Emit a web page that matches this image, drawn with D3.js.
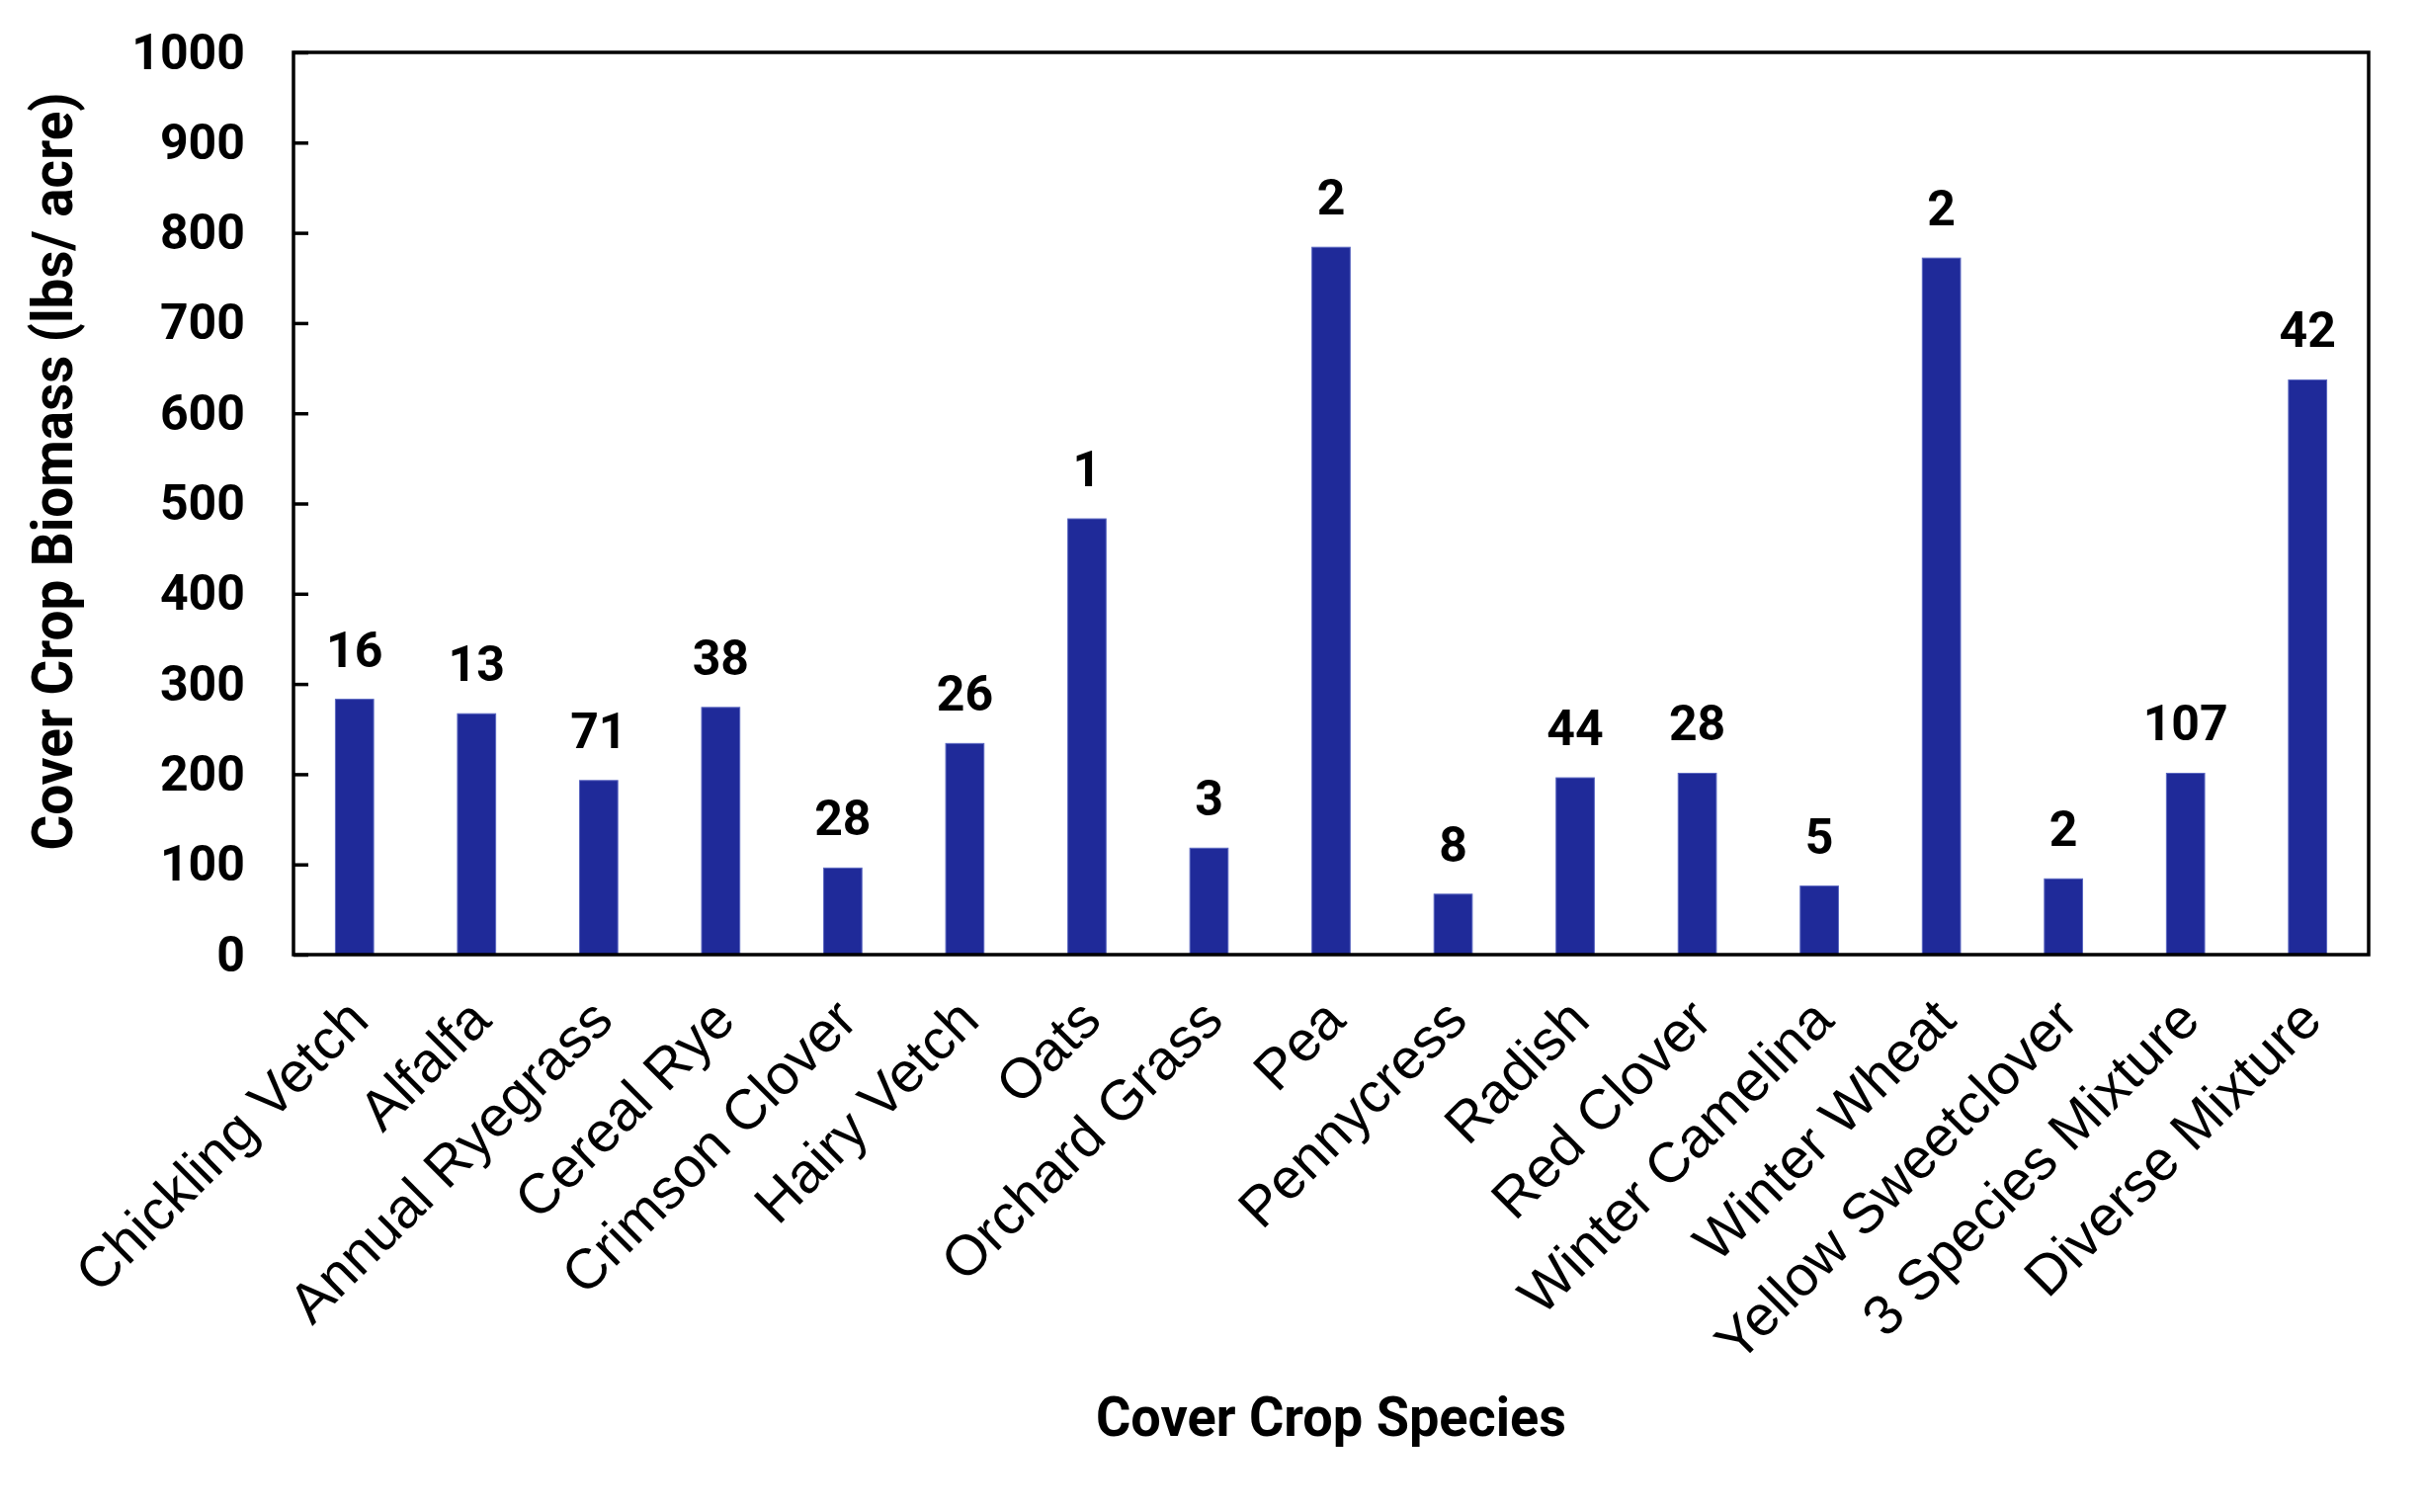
<!DOCTYPE html>
<html>
<head>
<meta charset="utf-8">
<script src="https://cdn.jsdelivr.net/npm/d3@7"></script>
<style>
html,body{margin:0;padding:0;background:#fff;}
svg{display:block;}
</style>
</head>
<body>
<svg id="chart" width="2452" height="1530"></svg>
<script>
const categories = ["Chickling Vetch","Alfalfa","Annual Ryegrass","Cereal Rye","Crimson Clover","Hairy Vetch","Oats","Orchard Grass","Pea","Pennycress","Radish","Red Clover","Winter Camelina","Winter Wheat","Yellow Sweetclover","3 Species Mixture","Diverse Mixture"];
const biomass = [283, 267, 193, 274, 96, 234, 483, 118, 784, 67, 196, 201, 76, 772, 84, 201, 637];
const sampleCounts = [16, 13, 71, 38, 28, 26, 1, 3, 2, 8, 44, 28, 5, 2, 2, 107, 42];
const yTicks = [0,100,200,300,400,500,600,700,800,900,1000];
const yTitle = "Cover Crop Biomass (lbs/ acre)";
const xTitle = "Cover Crop Species";

const svg = d3.select("#chart");
const m = {left: 297, right: 2397, top: 53, bottom: 966};

const x = d3.scaleBand().domain(categories).range([m.left, m.right]).paddingInner(0.687).paddingOuter(0.3435);
const y = d3.scaleLinear().domain([0, 1000]).range([m.bottom, m.top]);

// bars
svg.append("g").selectAll("rect").data(categories).join("rect")
  .attr("x", d => x(d))
  .attr("width", x.bandwidth())
  .attr("y", (d,i) => y(biomass[i]))
  .attr("height", (d,i) => y(0) - y(biomass[i]))
  .attr("fill", "#1f2a99")
  .attr("stroke", "#5a66c0")
  .attr("stroke-width", 1);

// value labels
svg.append("g").selectAll("text").data(categories).join("text")
  .attr("x", d => x(d) + x.bandwidth()/2)
  .attr("y", (d,i) => y(biomass[i]) - 33)
  .attr("text-anchor", "middle")
  .attr("font-family", "Roboto, sans-serif")
  .attr("font-weight", "bold")
  .attr("font-size", 50)
  .attr("fill", "#000")
  .text((d,i) => sampleCounts[i]);

// y axis
const yAxis = d3.axisLeft(y).tickValues(yTicks).tickFormat(d3.format("d"))
  .tickSizeInner(-15).tickSizeOuter(0).tickPadding(49);
const gy = svg.append("g").attr("transform", `translate(${m.left},0)`).call(yAxis);
gy.select(".domain").remove();
gy.selectAll(".tick line").attr("stroke", "#000").attr("stroke-width", 3.5);
gy.selectAll(".tick text")
  .attr("font-family", "Roboto, sans-serif")
  .attr("font-weight", "bold")
  .attr("font-size", 50)
  .attr("fill", "#000");

// x axis labels
const xAxis = d3.axisBottom(x).tickSize(0).tickPadding(0);
const gx = svg.append("g").attr("transform", `translate(0,${m.bottom})`).call(xAxis);
gx.select(".domain").remove();
gx.selectAll(".tick text")
  .attr("font-family", "'Liberation Sans', Arial, sans-serif")
  .attr("font-size", 57)
  .attr("fill", "#000")
  .attr("text-anchor", "end")
  .attr("dy", null)
  .attr("y", 0)
  .attr("transform", "translate(17,69) rotate(-45)");

// frame
svg.append("rect")
  .attr("x", m.left).attr("y", m.top)
  .attr("width", m.right - m.left).attr("height", m.bottom - m.top)
  .attr("fill", "none").attr("stroke", "#000").attr("stroke-width", 3.5);

// axis titles
svg.append("text")
  .attr("x", 1347).attr("y", 1453)
  .attr("text-anchor", "middle")
  .attr("font-family", "Roboto, sans-serif")
  .attr("font-weight", "bold")
  .attr("font-size", 55)
  .attr("textLength", 476)
  .attr("lengthAdjust", "spacingAndGlyphs")
  .attr("fill", "#000")
  .text(xTitle);

svg.append("text")
  .attr("transform", "translate(73,477) rotate(-90)")
  .attr("text-anchor", "middle")
  .attr("font-family", "Roboto, sans-serif")
  .attr("font-weight", "bold")
  .attr("font-size", 57)
  .attr("textLength", 767)
  .attr("lengthAdjust", "spacingAndGlyphs")
  .attr("fill", "#000")
  .text(yTitle);
</script>
</body>
</html>
